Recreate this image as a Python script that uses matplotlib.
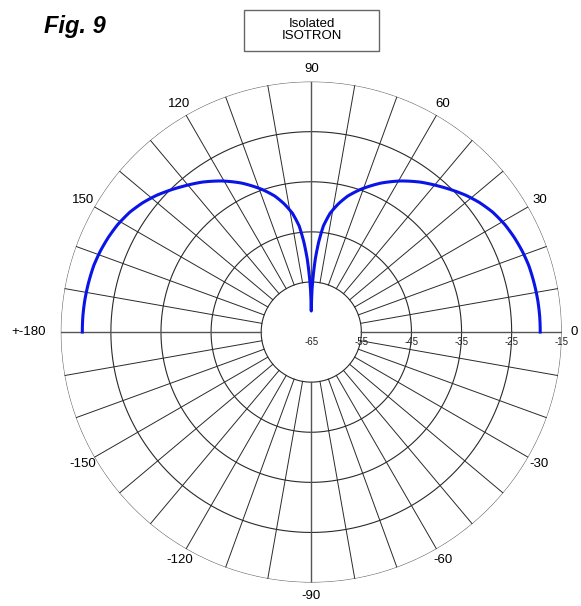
import numpy as np
import matplotlib
matplotlib.use('Agg')
import matplotlib.pyplot as plt
from matplotlib.patches import Rectangle
from matplotlib.transforms import offset_copy

plt.rcParams['font.family'] = ['Liberation Sans', 'DejaVu Sans']

# Elevation pattern, right lobe (0..90 deg), gain in dB
lobe_angles = [0, 4, 8, 12, 17, 21, 25, 29, 33.5, 37.5, 41.5, 45, 48.5, 54, 59.5,
               65, 71, 75, 78, 81, 83.5, 85.3, 86.8, 88, 89, 90]
lobe_gain = [-19.3, -19.3, -19.35, -19.45, -19.6, -19.9, -20.3, -20.8, -21.6, -22.6,
             -23.8, -25.0, -26.2, -28.0, -30.0, -32.2, -34.9, -36.9, -38.8, -41.0,
             -43.7, -47.0, -50.3, -53.7, -56.6, -60.8]

ring_values = [-55, -45, -35, -25, -15]
radial_labels = ['-65', '-55', '-45', '-35', '-25', '-15']
radial_positions = [-65, -55, -45, -35, -25, -15]
angle_ticks = [90, 60, 30, 0, -30, -60, -90, -120, -150, 180, 150, 120]
angle_labels = ['90', '60', '30', '0', '-30', '-60', '-90', '-120', '-150', '+-180', '150', '120']

# mirror the lobe about 90 deg to get the full upper half
theta_deg = np.array(lobe_angles + [180 - a for a in lobe_angles[::-1]])
gain = np.array(lobe_gain + lobe_gain[::-1])

fig = plt.figure(figsize=(5.81, 6.06), dpi=100)
ax = fig.add_axes([0.1046, 0.0387, 0.8623, 0.8267], projection='polar')
ax.set_ylim(-65, -15)
ax.grid(False)
ax.set_xticks([])
ax.set_yticks([])
ax.spines['polar'].set_visible(False)

grid_col = '#2a2a2a'
full = np.linspace(0, 2 * np.pi, 721)
for r in ring_values:
    col = '#666666' if r == -15 else grid_col
    ax.plot(full, np.full_like(full, r), color=col, lw=0.8, zorder=1)
for a in range(0, 360, 10):
    t = np.deg2rad(a)
    col = '#555555' if a % 90 == 0 else grid_col
    lw = 1.0 if a % 90 == 0 else 0.7
    ax.plot([t, t], [-55, -15], color=col, lw=lw, zorder=1)

pattern, = ax.plot(np.deg2rad(theta_deg), gain, color='#0a14e6', lw=2.2, zorder=3,
                   clip_on=False, solid_joinstyle='round')
# draw segments as arcs in polar space, like the gridlines
pattern.get_path()._interpolation_steps = 20

# angle labels around the rim
for a, lab in zip(angle_ticks, angle_labels):
    t = np.deg2rad(a)
    if a == 180:
        ax.text(t, -12.0, lab, ha='right', va='center', fontsize=9.5, clip_on=False)
    elif a == 0:
        ax.text(t, -13.3, lab, ha='left', va='center', fontsize=9.5, clip_on=False)
    else:
        ax.text(t, -12.4, lab, ha='center', va='center', fontsize=9.5, clip_on=False)

# dB labels just below the 0 deg line
below = offset_copy(ax.transData, fig=fig, x=0, y=-9.5, units='dots')
for r, lab in zip(radial_positions, radial_labels):
    ax.text(0, r, lab, transform=below, ha='center', va='center', fontsize=7, color='#222222')

# legend-style box at the top
box = Rectangle((244 / 581, 1 - 51 / 606), 135 / 581, 41 / 606, transform=fig.transFigure,
                facecolor='white', edgecolor='#666666', lw=1.0)
fig.add_artist(box)
fig.text(311.5 / 581, 1 - 30 / 606, 'Isolated\nISOTRON', ha='center', va='center',
         fontsize=9.5, linespacing=1.1)

fig.text(44 / 581, 1 - 33 / 606, 'Fig. 9', ha='left', va='baseline', fontsize=17,
         fontweight='bold', fontstyle='italic')

fig.savefig('out.png', dpi=100)
